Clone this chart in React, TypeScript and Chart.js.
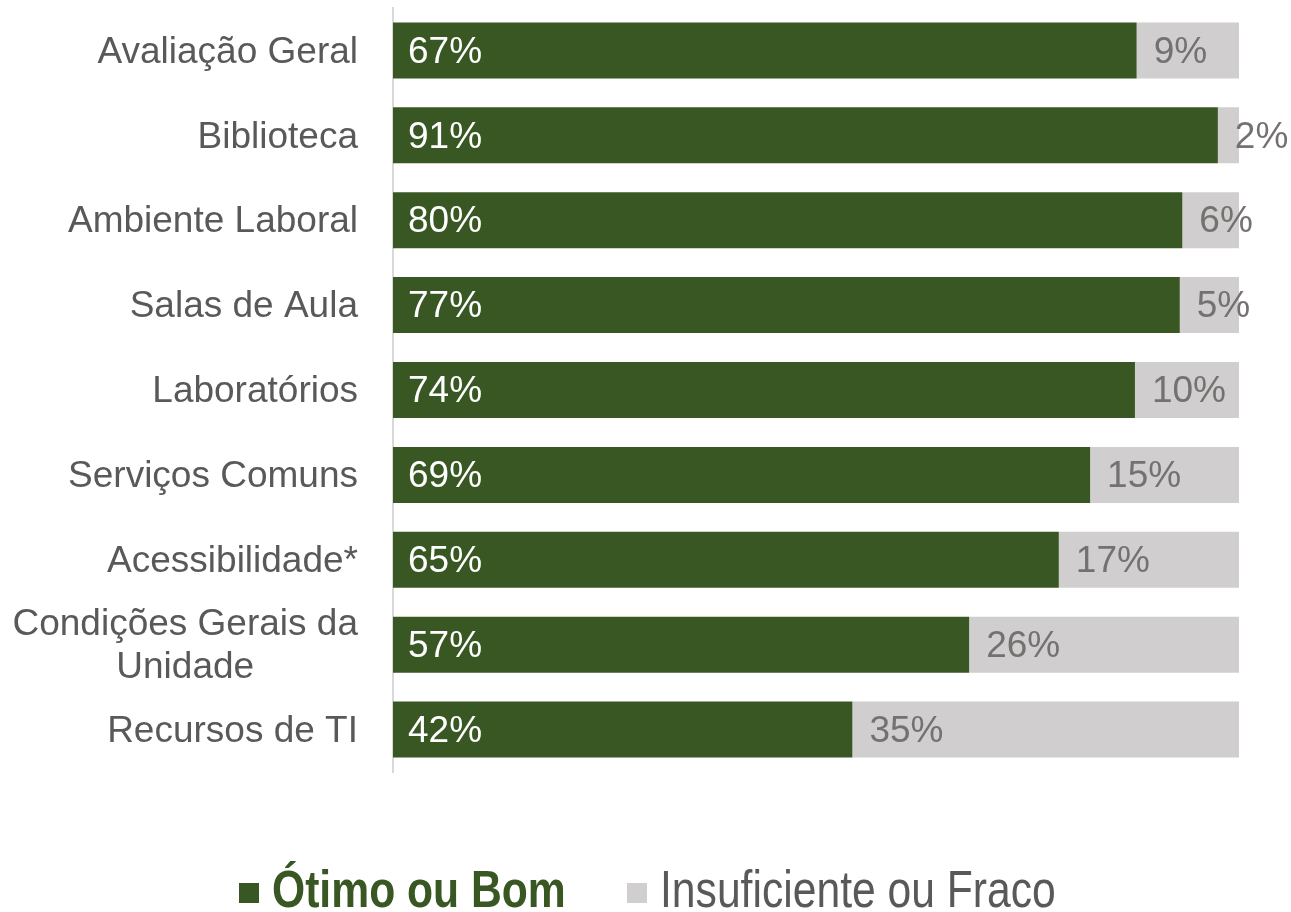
import React, { useEffect, useRef } from "react";
import { Chart, registerables } from "chart.js";

Chart.register(...registerables);

const categories: string[][] = [
  ["Avaliação Geral"],
  ["Biblioteca"],
  ["Ambiente Laboral"],
  ["Salas de Aula"],
  ["Laboratórios"],
  ["Serviços Comuns"],
  ["Acessibilidade*"],
  ["Condições Gerais da", "Unidade"],
  ["Recursos de TI"],
];
// printed labels (%)
const otimoBom = [67, 91, 80, 77, 74, 69, 65, 57, 42];
const insuficiente = [9, 2, 6, 5, 10, 15, 17, 26, 35];
// bar shares of the 100% stacked bar (%)
const otimoBomShare = [87.9, 97.5, 93.3, 93.0, 87.7, 82.4, 78.7, 68.1, 54.3];
const insuficienteShare = [12.1, 2.5, 6.7, 7.0, 12.3, 17.6, 21.3, 31.9, 45.7];
const seriesNames = ["Ótimo ou Bom", "Insuficiente ou Fraco"];

const GREEN = "#385723";
const GRAY = "#D0CECE";
const LABEL_GRAY = "#767171";
const TEXT = "#595959";
const FONT = '"Liberation Sans", Arial, sans-serif';

const rawValues = [otimoBom, insuficiente];

const labelsPlugin = {
  id: "customLabels",
  afterDatasetsDraw(chart: any) {
    const ctx = chart.ctx;
    ctx.save();
    ctx.font = `37px ${FONT}`;
    ctx.textAlign = "left";
    ctx.textBaseline = "middle";
    chart.data.datasets.forEach((_ds: any, di: number) => {
      const meta = chart.getDatasetMeta(di);
      meta.data.forEach((el: any, i: number) => {
        const start = Math.min(el.base, el.x);
        ctx.fillStyle = di === 0 ? "#FFFFFF" : LABEL_GRAY;
        ctx.fillText(`${rawValues[di][i]}%`, start + (di === 0 ? 15 : 17), el.y + 2);
      });
    });
    ctx.restore();
  },
  afterDraw(chart: any) {
    const ctx = chart.ctx;
    const yScale = chart.scales.y;
    ctx.save();
    // category labels
    ctx.font = `37px ${FONT}`;
    ctx.fillStyle = TEXT;
    ctx.textBaseline = "middle";
    ctx.textAlign = "center";
    const rightEdge = 358;
    const lineH = 43;
    categories.forEach((lines, i) => {
      const cy = yScale.getPixelForValue(i) + 2;
      const maxW = Math.max(...lines.map((l) => ctx.measureText(l).width));
      const cx = rightEdge - maxW / 2;
      lines.forEach((l, li) => {
        const y = cy + (li - (lines.length - 1) / 2) * lineH;
        ctx.fillText(l, cx, y);
      });
    });

    // legend
    const baseY = 907;
    const items = [
      { x: 239, color: GREEN, textColor: GREEN, bold: true, text: seriesNames[0] },
      { x: 627, color: GRAY, textColor: TEXT, bold: false, text: seriesNames[1] },
    ];
    items.forEach((it) => {
      ctx.fillStyle = it.color;
      ctx.fillRect(it.x, 883, 20, 20);
      ctx.save();
      ctx.translate(it.x + 33, baseY);
      ctx.scale(0.82, 1);
      ctx.font = `${it.bold ? "bold " : ""}52px ${FONT}`;
      ctx.fillStyle = it.textColor;
      ctx.textAlign = "left";
      ctx.textBaseline = "alphabetic";
      ctx.fillText(it.text, 0, 0);
      ctx.restore();
    });
    ctx.restore();
  },
};

export default function App() {
  const ref = useRef<HTMLCanvasElement | null>(null);
  useEffect(() => {
    if (!ref.current) return;
    const chart = new Chart(ref.current, {
      type: "bar",
      data: {
        labels: categories.map((c) => c.join(" ")),
        datasets: [
          {
            label: seriesNames[0],
            data: otimoBomShare,
            backgroundColor: GREEN,
            borderWidth: 0,
            barPercentage: 0.66,
            categoryPercentage: 1,
          },
          {
            label: seriesNames[1],
            data: insuficienteShare,
            backgroundColor: GRAY,
            borderWidth: 0,
            barPercentage: 0.66,
            categoryPercentage: 1,
          },
        ],
      },
      options: {
        indexAxis: "y",
        responsive: false,
        animation: false,
        layout: { padding: { top: 8, right: 52, bottom: 140, left: 0 } },
        plugins: {
          legend: { display: false },
          tooltip: { enabled: false },
        },
        scales: {
          x: { stacked: true, min: 0, max: 100, display: false },
          y: {
            stacked: true,
            grid: { display: false, drawTicks: false },
            border: { display: true, color: "#D9D9D9", width: 2 },
            ticks: { display: false },
            afterFit: (s: any) => {
              s.width = 393;
            },
          },
        },
      },
      plugins: [labelsPlugin],
    });
    return () => chart.destroy();
  }, []);
  return (
    <div style={{ position: "absolute", left: 0, top: 0, width: 1291, height: 912, background: "#fff" }}>
      <canvas ref={ref} width={1291} height={912} style={{ display: "block" }} />
    </div>
  );
}
